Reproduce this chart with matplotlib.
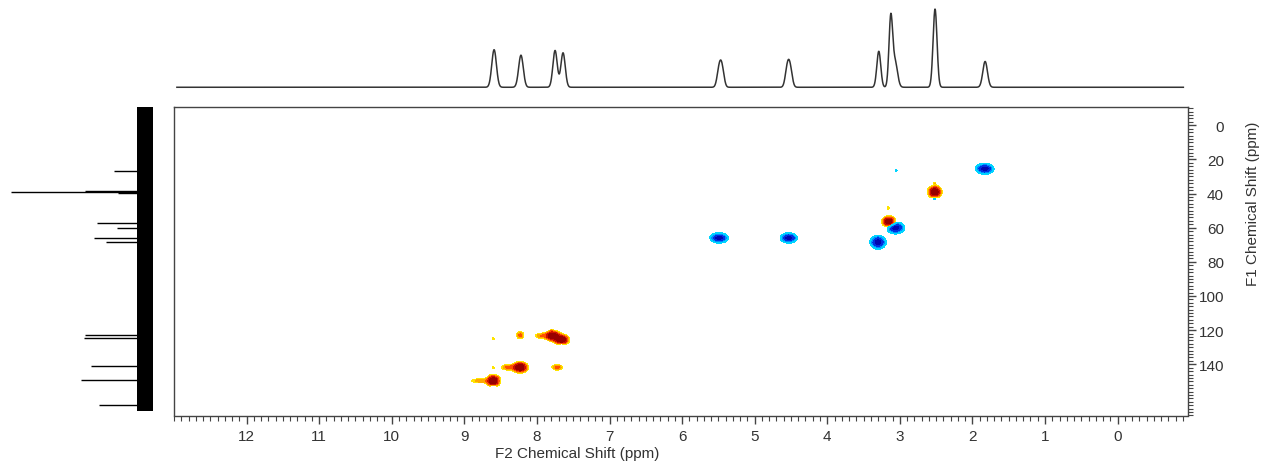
import matplotlib
matplotlib.use("Agg")
import matplotlib.pyplot as plt
import numpy as np
from matplotlib.ticker import MultipleLocator

plt.rcParams['font.family'] = ['Liberation Sans', 'DejaVu Sans']

# 1H projection (top trace): shift (ppm), height (% of tallest), width (ppm)
h_shift  = [8.59, 8.22, 7.75, 7.64, 5.49, 5.45, 4.55, 4.51, 3.29, 3.125, 3.065, 2.515, 1.825]
h_height = [48, 41, 47, 44, 22, 23, 24, 22, 46, 88, 32, 100, 33]
h_width  = [0.032, 0.032, 0.03, 0.03, 0.028, 0.028, 0.028, 0.028, 0.027, 0.025, 0.033, 0.027, 0.032]

# 13C projection (left trace): spike shift (ppm), length (% of tallest)
c_shift  = [27.0, 38.7, 39.1, 39.5, 57.2, 60.1, 66.0, 68.3, 123.0, 124.7, 141.2, 149.4, 164.1]
c_height = [23, 45, 100, 20, 36, 21, 38, 29, 45, 45.5, 40, 48, 34]
c_noise = 6
c_range = [-10.7, 167.6]

# HSQC cross peaks: F2 (ppm), F1 (ppm), signed intensity, widths (ppm)
pk_f2  = [5.49, 4.53, 3.30, 3.06, 1.83, 3.05,
          3.15, 2.52, 2.52, 3.16, 2.52,
          7.78, 7.66, 7.93, 8.23, 8.23, 8.39, 7.72, 8.60, 8.78, 8.60, 8.60, 8.60, 7.66, 7.80]
pk_f1  = [66.0, 66.0, 68.5, 60.0, 25.5, 26.5,
          56.5, 39.0, 43.0, 48.5, 34.0,
          123.3, 125.6, 123.3, 123.0, 141.8, 141.8, 141.8, 149.7, 149.7, 152.8, 125.0, 142.0, 128.3, 120.5]
pk_amp = [-1.0, -1.0, -1.0, -1.0, -1.0, -0.2,
          1.0, 1.0, -0.25, 0.2, 0.2,
          1.0, 1.0, 0.3, 0.35, 1.0, 0.35, 0.35, 1.0, 0.28, -0.3, 0.2, 0.2, -0.25, 0.2]
pk_w2  = [0.062, 0.058, 0.055, 0.062, 0.062, 0.012,
          0.05, 0.05, 0.02, 0.012, 0.012,
          0.055, 0.055, 0.07, 0.035, 0.055, 0.07, 0.05, 0.05, 0.09, 0.025, 0.012, 0.012, 0.02, 0.012]
pk_w1  = [1.5, 1.5, 2.0, 1.8, 1.6, 0.5,
          1.7, 1.9, 0.8, 0.7, 0.6,
          1.6, 1.6, 1.1, 1.4, 1.7, 1.1, 1.1, 1.9, 0.9, 0.8, 0.6, 0.6, 0.7, 0.5]

xticks = list(range(0, 13))
yticks = list(range(0, 141, 20))
xlim = (13.0, -0.97)
ylim = (170.0, -11.0)

W, H = 1262, 464
fig = plt.figure(figsize=(W / 100, H / 100), dpi=100)


def box(l, t, r, b):
    return [l / W, 1 - b / H, (r - l) / W, (b - t) / H]


# main 2D plot
ax = fig.add_axes(box(174, 107.5, 1188, 416.5))
gx = np.linspace(xlim[0], xlim[1], 1400)
gy = np.linspace(ylim[1], ylim[0], 700)
X, Y = np.meshgrid(gx, gy)
Z = np.zeros_like(X)
for f2, f1, a, w2, w1 in zip(pk_f2, pk_f1, pk_amp, pk_w2, pk_w1):
    Z += a * np.exp(-0.5 * ((X - f2) / w2) ** 2 - 0.5 * ((Y - f1) / w1) ** 2)

ax.contourf(X, Y, Z, levels=[0.12, 0.2, 0.3, 0.45, 0.65, 10],
            colors=['#FFE400', '#FFA800', '#FF5000', '#CC1000', '#980000'])
ax.contourf(X, Y, Z, levels=[-10, -0.6, -0.3, -0.18, -0.12],
            colors=['#0008B0', '#0030E0', '#0088FF', '#00D4FF'])

ax.set_xlim(*xlim)
ax.set_ylim(*ylim)
ax.set_xticks(xticks)
ax.xaxis.set_minor_locator(MultipleLocator(0.1))
ax.set_yticks(yticks)
ax.yaxis.set_minor_locator(MultipleLocator(2))
ax.yaxis.tick_right()
ax.tick_params(axis='both', which='major', length=6, width=1, color='#444444',
               labelsize=11, labelcolor='#333333')
ax.tick_params(axis='both', which='minor', length=3.5, width=0.8, color='#444444')
ax.tick_params(axis='x', which='major', pad=4)
ax.tick_params(axis='y', which='major', pad=20)
for lab in ax.get_yticklabels():
    lab.set_horizontalalignment('right')
for sp in ax.spines.values():
    sp.set_color('#444444')
    sp.set_linewidth(1)

fig.text(577 / W, 1 - 454 / H, "F2 Chemical Shift (ppm)", ha='center', va='center',
         fontsize=11, color='#333333')
fig.text(1253 / W, 1 - 204 / H, "F1 Chemical Shift (ppm)", ha='center', va='center',
         rotation=90, fontsize=11, color='#333333')

# top 1H trace
axt = fig.add_axes(box(174, 5, 1188, 95))
hx = np.linspace(12.96, -0.906, 4000)
hy = np.zeros_like(hx)
for s, h, w in zip(h_shift, h_height, h_width):
    hy += h * np.exp(-0.5 * ((hx - s) / w) ** 2)
axt.plot(hx, hy, color='#333333', lw=1.1)
axt.set_xlim(*xlim)
axt.set_ylim(-8.6, 106.4)
axt.axis('off')

# left 13C trace
axl = fig.add_axes(box(5, 107.5, 160, 416.5))
axl.fill_betweenx(c_range, -c_noise, c_noise, color='black', lw=0)
axl.hlines(c_shift, 0, c_height, color='black', lw=1)
axl.set_xlim(104.5, -11.2)
axl.set_ylim(*ylim)
axl.axis('off')

fig.savefig("out.png", dpi=100)
